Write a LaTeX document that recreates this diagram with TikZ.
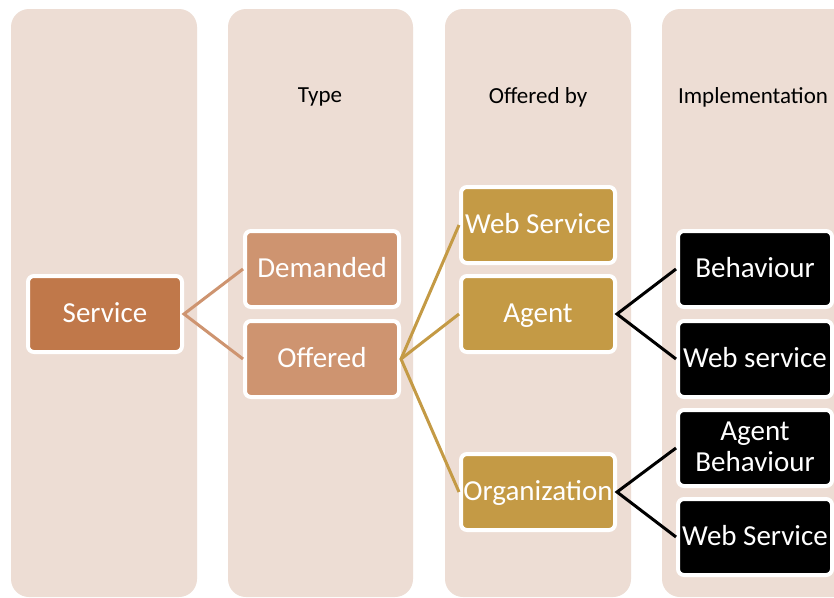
\documentclass[tikz,border=0pt]{standalone}
\usepackage{fontspec}
\setmainfont{Carlito}
\usepackage{tikz}
\definecolor{colbg}{HTML}{EDDDD4}
\definecolor{servfill}{HTML}{C0784A}
\definecolor{typefill}{HTML}{CE9470}
\definecolor{offfill}{HTML}{C49A45}

\begin{document}
\begin{tikzpicture}[x=1pt, y=-1pt,
    column/.style={fill=colbg, rounded corners=18pt},
    box/.style={draw=white, line width=4pt, rounded corners=6pt, minimum width=154pt,
      minimum height=76pt, inner sep=0pt, text=white, align=center,
      text height=20pt, text depth=4pt, font=\fontsize{29}{31}\selectfont},
    header/.style={font=\fontsize{23}{25}\selectfont},
    link/.style={line width=3pt}]
    \clip (0, 0) rectangle (834, 597);
    \fill[white] (0, 0) rectangle (834, 597);

    % draw columns
    \fill[column] (11, 9) rectangle (197, 597);
    \fill[column] (228, 9) rectangle (413, 597);
    \fill[column] (445, 9) rectangle (631, 597);
    \fill[column] (662, 9) rectangle (860, 597);

    % headers
    \node[header] (hType) at (320, 97) {Type};
    \node[header] (hOffered) at (538, 97) {Offered by};
    \node[header] (hImpl) at (753, 97) {Implementation};

    % draw nodes
    \node[box, fill=servfill] (service) at (105, 314) {Service};

    \node[box, fill=typefill] (demanded) at (322, 269) {Demanded};
    \node[box, fill=typefill] (offered) at (322, 359) {Offered};

    \node[box, fill=offfill] (webserv) at (538, 225) {Web Service};
    \node[box, fill=offfill] (agent) at (538, 314) {Agent};
    \node[box, fill=offfill] (organization) at (538, 492) {Organization};

    \node[box, fill=black] (behaviour) at (755, 269) {Behaviour};
    \node[box, fill=black] (agentweb) at (755, 359) {Web service};
    \node[box, fill=black, text height=51pt] (agentbehav) at (755, 448) {Agent\\Behaviour};
    \node[box, fill=black] (orgweb) at (755, 537) {Web Service};

    % draw links
    \draw[link, color=typefill] (demanded.west) -- (service.east) -- (offered.west);
    \draw[link, color=offfill] (webserv.west) -- (offered.east) -- (organization.west);
    \draw[link, color=offfill] (offered.east) -- (agent.west);
    \draw[link, color=black] (behaviour.west) -- (agent.east) -- (agentweb.west);
    \draw[link, color=black] (agentbehav.west) -- (organization.east) -- (orgweb.west);

\end{tikzpicture}
\end{document}
